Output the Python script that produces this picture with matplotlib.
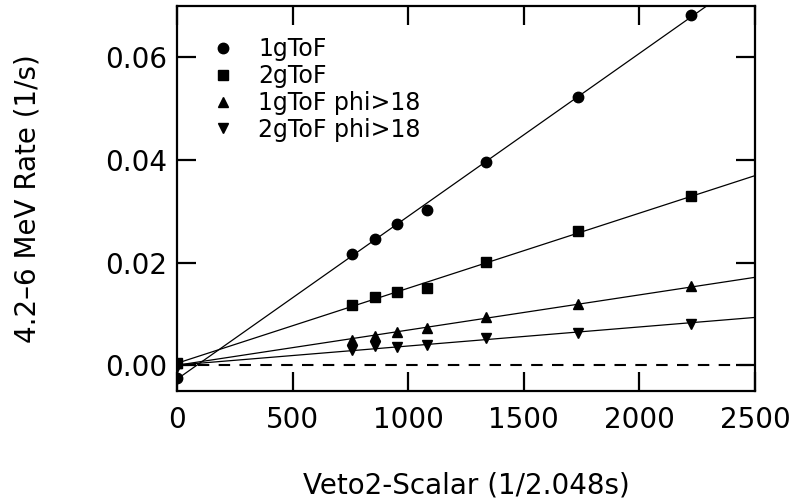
import matplotlib
matplotlib.use("Agg")
import matplotlib.pyplot as plt
import numpy as np

plt.rcParams['font.family'] = ['DejaVu Sans']

# veto2 scalar values (1/2.048s)
veto = np.array([0, 755, 856, 953, 1080, 1335, 1735, 2223])

# 4.2-6 MeV rates (1/s)
rate_1g = np.array([-0.0025, 0.0217, 0.0247, 0.0276, 0.0303, 0.0397, 0.0522, 0.0683])
rate_2g = np.array([0.0005, 0.0117, 0.0133, 0.0142, 0.0151, 0.0201, 0.0261, 0.0329])
rate_1g_phi = np.array([0.0004, 0.0049, 0.0057, 0.0064, 0.0072, 0.0095, 0.0119, 0.0154])
rate_2g_phi = np.array([-0.0003, 0.0029, 0.0037, 0.0036, 0.0039, 0.0054, 0.0063, 0.0081])

labels = ["1gToF", "2gToF", "1gToF phi>18", "2gToF phi>18"]
markers = ["o", "s", "^", "v"]

fig = plt.figure(figsize=(7.94, 5.04), dpi=100)
ax = fig.add_axes([0.2229, 0.2242, 0.728, 0.7639])

xx = np.array([0, 2500])
for r, m, lab in zip([rate_1g, rate_2g, rate_1g_phi, rate_2g_phi], markers, labels):
    ax.plot(veto, r, m, color='black', markersize=7.5, label=lab, linestyle='none')
    # linear fit
    k, b = np.polyfit(veto, r, 1)
    ax.plot(xx, k * xx + b, '-', color='black', linewidth=0.9)

ax.axhline(0, color='black', linewidth=1.5, dashes=(5.5, 4.5))

ax.set_xlim(0, 2500)
ax.set_ylim(-0.005, 0.07)
ax.set_xticks([0, 500, 1000, 1500, 2000, 2500])
ax.set_yticks([0.00, 0.02, 0.04, 0.06])
ax.set_yticklabels(["0.00", "0.02", "0.04", "0.06"])

for s in ax.spines.values():
    s.set_linewidth(1.6)
ax.tick_params(direction='in', length=14, width=1.6, labelsize=20, pad=7,
               top=True, right=True)
ax.tick_params(axis='x', pad=10.5)

ax.set_xlabel("Veto2-Scalar (1/2.048s)", fontsize=20)
ax.set_ylabel("4.2\u20136 MeV Rate (1/s)", fontsize=20)
ax.xaxis.set_label_coords(0.5, -0.21)
ax.yaxis.set_label_coords(-0.234, 0.5)

ax.legend(loc='upper left', bbox_to_anchor=(0.0225, 0.974), frameon=False, fontsize=17,
          numpoints=1, handlelength=1.0, handletextpad=1.0, labelspacing=0.12,
          borderaxespad=0.5)

fig.savefig("out.png", dpi=100)
